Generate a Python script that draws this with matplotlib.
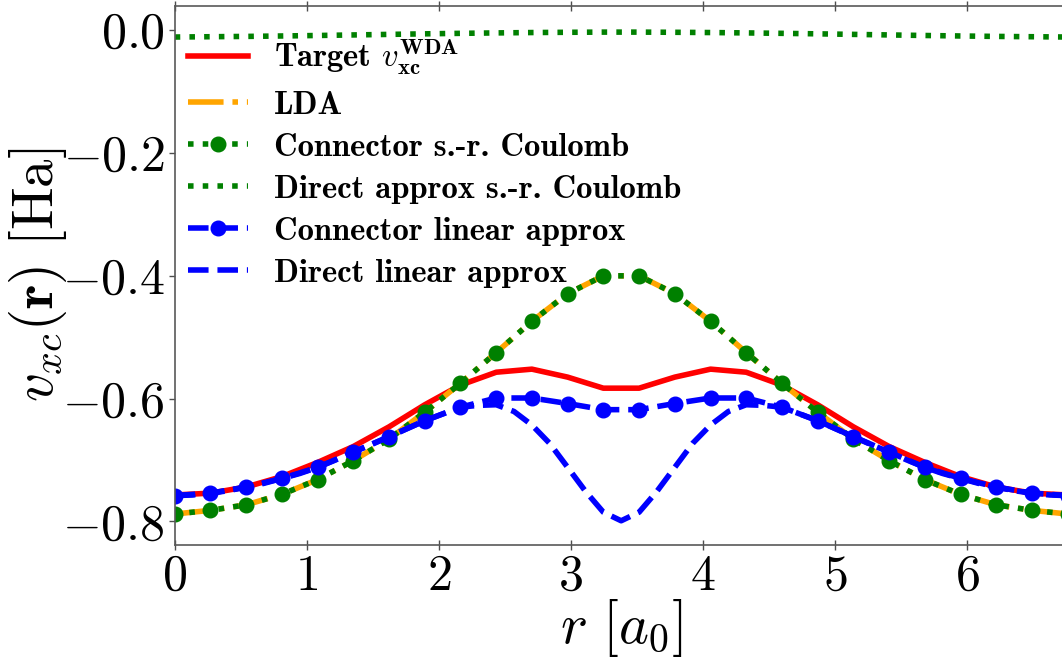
import numpy as np
import matplotlib
matplotlib.use("Agg")
import matplotlib.pyplot as plt
from matplotlib.ticker import FuncFormatter

plt.rcParams["mathtext.fontset"] = "cm"
plt.rcParams["font.family"] = "serif"
plt.rcParams["font.serif"] = ["cmr10", "DejaVu Serif"]

# coarse grid (marker points), 26 points
r = [0.000, 0.271, 0.541, 0.812, 1.082, 1.353, 1.623, 1.894, 2.164, 2.435,
     2.705, 2.976, 3.246, 3.517, 3.787, 4.058, 4.328, 4.599, 4.869, 5.140,
     5.410, 5.681, 5.951, 6.222, 6.492, 6.763]

target = [-0.757, -0.754, -0.744, -0.727, -0.704, -0.678, -0.646, -0.610, -0.578,
          -0.557, -0.552, -0.565, -0.583, -0.583, -0.565, -0.552, -0.557, -0.578,
          -0.610, -0.646, -0.678, -0.704, -0.727, -0.744, -0.754, -0.757]

lda = [-0.788, -0.782, -0.773, -0.756, -0.732, -0.701, -0.666, -0.622, -0.575,
       -0.525, -0.474, -0.429, -0.400, -0.400, -0.429, -0.474, -0.525, -0.575,
       -0.622, -0.666, -0.701, -0.732, -0.756, -0.773, -0.782, -0.788]

conn_src = [-0.788, -0.782, -0.773, -0.756, -0.732, -0.701, -0.666, -0.622, -0.575,
            -0.525, -0.474, -0.429, -0.400, -0.400, -0.429, -0.474, -0.525, -0.575,
            -0.622, -0.666, -0.701, -0.732, -0.756, -0.773, -0.782, -0.788]

direct_src = [-0.0110, -0.0105, -0.0100, -0.0093, -0.0085, -0.0076, -0.0067,
              -0.0058, -0.0050, -0.0043, -0.0037, -0.0033, -0.0030, -0.0030,
              -0.0033, -0.0037, -0.0043, -0.0050, -0.0058, -0.0067, -0.0076,
              -0.0085, -0.0093, -0.0100, -0.0105, -0.0110]

conn_lin = [-0.758, -0.754, -0.744, -0.730, -0.712, -0.687, -0.662, -0.636, -0.614,
            -0.599, -0.599, -0.608, -0.618, -0.618, -0.608, -0.599, -0.599, -0.614,
            -0.636, -0.662, -0.687, -0.712, -0.730, -0.744, -0.754, -0.758]

# fine grid (half step) for the direct linear approx, 51 points
r_fine = [0.000, 0.135, 0.271, 0.406, 0.541, 0.676, 0.812, 0.947, 1.082, 1.217,
          1.353, 1.488, 1.623, 1.758, 1.894, 2.029, 2.164, 2.299, 2.435, 2.570,
          2.705, 2.840, 2.976, 3.111, 3.246, 3.381, 3.517, 3.652, 3.787, 3.922,
          4.058, 4.193, 4.328, 4.463, 4.599, 4.734, 4.869, 5.004, 5.140, 5.275,
          5.410, 5.545, 5.681, 5.816, 5.951, 6.086, 6.222, 6.357, 6.492, 6.627,
          6.763]

direct_lin = [-0.758, -0.757, -0.754, -0.750, -0.744, -0.738, -0.730, -0.722, -0.712,
              -0.700, -0.687, -0.675, -0.662, -0.649, -0.636, -0.625, -0.614, -0.611,
              -0.610, -0.621, -0.643, -0.673, -0.712, -0.751, -0.785, -0.799, -0.785,
              -0.751, -0.712, -0.673, -0.643, -0.621, -0.610, -0.611, -0.614, -0.625,
              -0.636, -0.649, -0.662, -0.675, -0.687, -0.700, -0.712, -0.722, -0.730,
              -0.738, -0.744, -0.750, -0.754, -0.757, -0.758]

fig = plt.figure(figsize=(10.62, 6.57), dpi=100)
ax = fig.add_axes([0.1645, 0.1709, 0.8409, 0.8204])

lw = 4
ax.plot(r, target, color="red", lw=lw, label=r"Target $v_{\mathbf{xc}}^{\mathbf{WDA}}$")
ax.plot(r, lda, color="orange", ls="-.", lw=lw, label="LDA")
ax.plot(r, conn_src, color="green", ls=":", lw=lw, marker="o", ms=10.5,
        label="Connector s.-r. Coulomb")
ax.plot(r, direct_src, color="green", ls=":", lw=lw, label="Direct approx s.-r. Coulomb")
ax.plot(r, conn_lin, color="blue", ls="--", lw=lw, marker="o", ms=10.5,
        label="Connector linear approx")
ax.plot(r_fine, direct_lin, color="blue", ls="--", lw=lw, label="Direct linear approx")

ax.set_xlim(0, 6.763)
ax.set_ylim(-0.838, 0.040)
ax.set_xticks([0, 1, 2, 3, 4, 5, 6])
ax.set_yticks([0.0, -0.2, -0.4, -0.6, -0.8])
ax.xaxis.set_major_formatter(FuncFormatter(lambda v, p: "$%d$" % round(v)))
ax.yaxis.set_major_formatter(FuncFormatter(lambda v, p: "$%.1f$" % v))
ax.tick_params(labelsize=36, length=4, width=1, color="0.3", pad=3)
ax.tick_params(axis="x", top=True, direction="inout", length=7)

for s in ax.spines.values():
    s.set_color("0.35")
    s.set_linewidth(1.2)

ax.set_xlabel(r"$r\ [a_0]$", fontsize=41)
ax.set_ylabel(r"$v_{xc}(\mathbf{r})\ [\mathrm{Ha}]$", fontsize=41)
ax.xaxis.set_label_coords(0.5, -0.097)
ax.yaxis.set_label_coords(-0.118, 0.5)

ax.legend(loc="upper left", bbox_to_anchor=(0.0, 0.967), borderaxespad=0,
          frameon=False, prop={"family": "cmb10", "size": 23.5},
          handlelength=1.85, labelspacing=0.4, handletextpad=0.8)

fig.savefig("out.png", dpi=100)
